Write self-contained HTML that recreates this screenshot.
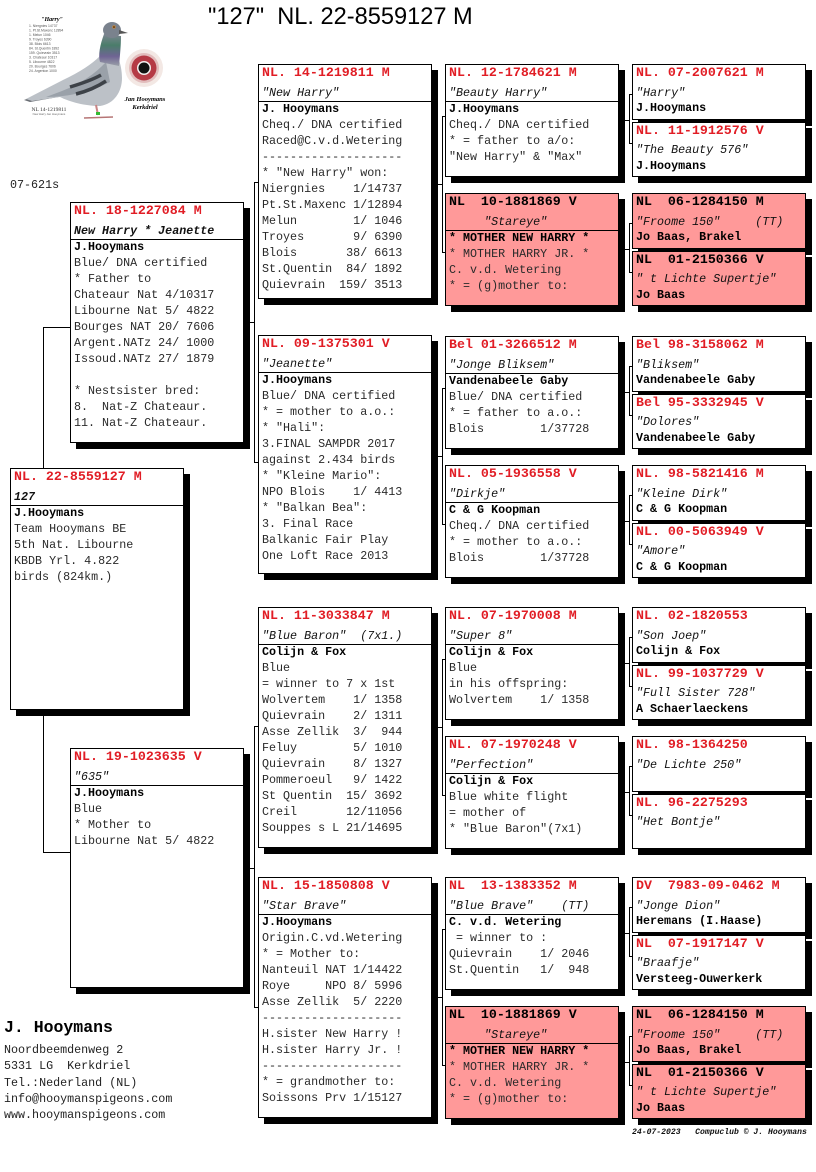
<!DOCTYPE html>
<html><head><meta charset="utf-8">
<style>
html,body{margin:0;padding:0}
body{width:816px;height:1172px;background:#fff;position:relative;overflow:hidden;font-family:"Liberation Mono","Courier New",monospace;}
.b{position:absolute;width:172px;border:1px solid #000;box-shadow:6px 6px 0 #000;background:#fff;}
.p{background:#ff9999;}
.h{position:absolute;left:3px;top:0;font-size:13.3px;font-weight:bold;color:#e11d25;line-height:16px;white-space:pre;}
.hk{color:#000}
.n{position:absolute;left:3px;top:20px;font-size:11.7px;font-style:italic;line-height:16px;white-space:pre;color:#111}
.n2{top:19px}
.s{position:absolute;left:0;right:0;top:36px;height:0;border-top:1px solid #000}
.t{position:absolute;left:3px;top:36px;font-size:11.7px;line-height:16px;white-space:pre;color:#2a2a2a}
.o{top:35px}
.t b{color:#000}
.l{position:absolute;background:#000}
.x{position:absolute;white-space:pre}
</style></head><body>

<div class="x" style="left:208px;top:6px;font-family:'Liberation Sans',Arial,sans-serif;font-size:23.6px;line-height:23.6px;color:#000">"127"  NL. 22-8559127 M</div>

<svg style="position:absolute;left:0;top:0" width="200" height="130" viewBox="0 0 200 130">
<defs><linearGradient id="nk" x1="0" y1="0" x2="0" y2="1">
<stop offset="0" stop-color="#7d8590"/><stop offset="0.35" stop-color="#4a7d6a"/><stop offset="0.7" stop-color="#6f6494"/><stop offset="1" stop-color="#9aa0a8"/></linearGradient></defs>
<text x="52" y="21" font-family="Liberation Serif" font-size="6" font-style="italic" font-weight="bold" text-anchor="middle">"Harry"</text>
<g font-family="Liberation Sans" font-size="3.4" fill="#555">
<text x="29" y="27">1. Niergnies    14737</text>
<text x="29" y="31.5">1. Pt.St.Maxenc 12894</text>
<text x="29" y="36">1. Melun         1046</text>
<text x="29" y="40.5">9. Troyes        6390</text>
<text x="29" y="45">38. Blois        6613</text>
<text x="29" y="49.5">84. St.Quentin   1892</text>
<text x="29" y="54">159. Quievrain   3513</text>
<text x="29" y="58.5">3. Chateaur     10317</text>
<text x="29" y="63">5. Libourne      4822</text>
<text x="29" y="67.5">20. Bourges      7606</text>
<text x="29" y="72">24. Argenton     1000</text>
</g>
<path d="M24,100 L58,88 L64,96 L30,102 Z" fill="#6a6e74"/>
<path d="M100,56 C92,64 80,72 63,80 L26,99 L32,101 L60,97 C70,102 85,106 100,106 C114,104 122,92 122,78 C122,68 119,60 119,60 Z" fill="#bcc1c7"/>
<path d="M106,62 C95,74 80,84 62,91 L46,97 C70,97 92,91 110,82 Z" fill="#9aa1a9"/>
<path d="M70,87 C80,84 92,80 101,75" stroke="#3d4248" stroke-width="3.5" fill="none"/>
<path d="M76,94 C88,91 97,87 106,81" stroke="#3d4248" stroke-width="3.5" fill="none"/>
<path d="M104,34 C100,45 98,55 100,62 L119,66 C120,55 121,45 121,36 Z" fill="url(#nk)"/>
<ellipse cx="112" cy="30" rx="9" ry="8" fill="#7a828d"/>
<circle cx="114" cy="27" r="1.6" fill="#d8872a"/><circle cx="114" cy="27" r="0.8" fill="#111"/>
<path d="M119,30 L128,33 L119,34 Z" fill="#555"/>
<path d="M96,105 L98,115" stroke="#c98585" stroke-width="2"/>
<path d="M84,118 L113,117" stroke="#b67575" stroke-width="1.5"/>
<rect x="96" y="112" width="4" height="3" fill="#33bb33"/>
<circle cx="144" cy="68" r="19" fill="#f3e8e4"/>
<circle cx="144" cy="68" r="15" fill="#e2bdbd"/>
<circle cx="144" cy="68" r="12.5" fill="#b53a45"/>
<circle cx="144" cy="68" r="7" fill="#f4efef"/>
<circle cx="144" cy="68" r="5.5" fill="#111"/>
<text x="145" y="101" font-family="Liberation Serif" font-size="6.5" font-style="italic" font-weight="bold" text-anchor="middle">Jan Hooymans</text>
<text x="145" y="109" font-family="Liberation Serif" font-size="6.5" font-style="italic" font-weight="bold" text-anchor="middle">Kerkdriel</text>
<text x="49" y="111" font-family="Liberation Serif" font-size="5.5" text-anchor="middle" fill="#333">NL 14-1219811</text>
<text x="49" y="115" font-family="Liberation Sans" font-size="2.8" text-anchor="middle" fill="#666">New Harry  Jan Hooymans</text>
</svg>

<div class="x" style="left:10px;top:177px;font-size:11.7px;line-height:16px;color:#222">07-621s</div>

<!-- connectors -->
<div class="l" style="left:43px;top:327px;width:1px;height:526px"></div>
<div class="l" style="left:43px;top:327px;width:27px;height:1px"></div>
<div class="l" style="left:43px;top:852px;width:27px;height:1px"></div>

<div class="l" style="left:243px;top:322px;width:11px;height:1px"></div>
<div class="l" style="left:254px;top:182px;width:1px;height:281px"></div>
<div class="l" style="left:254px;top:182px;width:4px;height:1px"></div>
<div class="l" style="left:254px;top:462px;width:4px;height:1px"></div>
<div class="l" style="left:243px;top:868px;width:11px;height:1px"></div>
<div class="l" style="left:254px;top:726px;width:1px;height:282px"></div>
<div class="l" style="left:254px;top:726px;width:4px;height:1px"></div>
<div class="l" style="left:254px;top:1007px;width:4px;height:1px"></div>

<div class="l" style="left:442px;top:116px;width:1px;height:137px"></div>
<div class="l" style="left:431px;top:184px;width:11px;height:1px"></div>
<div class="l" style="left:442px;top:116px;width:3px;height:1px"></div>
<div class="l" style="left:442px;top:252px;width:3px;height:1px"></div>
<div class="l" style="left:442px;top:388px;width:1px;height:137px"></div>
<div class="l" style="left:431px;top:456px;width:11px;height:1px"></div>
<div class="l" style="left:442px;top:388px;width:3px;height:1px"></div>
<div class="l" style="left:442px;top:524px;width:3px;height:1px"></div>
<div class="l" style="left:442px;top:659px;width:1px;height:137px"></div>
<div class="l" style="left:431px;top:727px;width:11px;height:1px"></div>
<div class="l" style="left:442px;top:659px;width:3px;height:1px"></div>
<div class="l" style="left:442px;top:795px;width:3px;height:1px"></div>
<div class="l" style="left:442px;top:929px;width:1px;height:137px"></div>
<div class="l" style="left:431px;top:997px;width:11px;height:1px"></div>
<div class="l" style="left:442px;top:929px;width:3px;height:1px"></div>
<div class="l" style="left:442px;top:1065px;width:3px;height:1px"></div>

<div class="l" style="left:629px;top:94px;width:1px;height:50px"></div><div class="l" style="left:619px;top:120px;width:10px;height:1px"></div><div class="l" style="left:629px;top:94px;width:3px;height:1px"></div><div class="l" style="left:629px;top:143px;width:3px;height:1px"></div>
<div class="l" style="left:629px;top:223px;width:1px;height:50px"></div><div class="l" style="left:619px;top:249px;width:10px;height:1px"></div><div class="l" style="left:629px;top:223px;width:3px;height:1px"></div><div class="l" style="left:629px;top:272px;width:3px;height:1px"></div>
<div class="l" style="left:629px;top:366px;width:1px;height:50px"></div><div class="l" style="left:619px;top:392px;width:10px;height:1px"></div><div class="l" style="left:629px;top:366px;width:3px;height:1px"></div><div class="l" style="left:629px;top:415px;width:3px;height:1px"></div>
<div class="l" style="left:629px;top:495px;width:1px;height:50px"></div><div class="l" style="left:619px;top:521px;width:10px;height:1px"></div><div class="l" style="left:629px;top:495px;width:3px;height:1px"></div><div class="l" style="left:629px;top:544px;width:3px;height:1px"></div>
<div class="l" style="left:629px;top:637px;width:1px;height:50px"></div><div class="l" style="left:619px;top:663px;width:10px;height:1px"></div><div class="l" style="left:629px;top:637px;width:3px;height:1px"></div><div class="l" style="left:629px;top:686px;width:3px;height:1px"></div>
<div class="l" style="left:629px;top:766px;width:1px;height:50px"></div><div class="l" style="left:619px;top:792px;width:10px;height:1px"></div><div class="l" style="left:629px;top:766px;width:3px;height:1px"></div><div class="l" style="left:629px;top:815px;width:3px;height:1px"></div>
<div class="l" style="left:629px;top:907px;width:1px;height:50px"></div><div class="l" style="left:619px;top:933px;width:10px;height:1px"></div><div class="l" style="left:629px;top:907px;width:3px;height:1px"></div><div class="l" style="left:629px;top:956px;width:3px;height:1px"></div>
<div class="l" style="left:629px;top:1036px;width:1px;height:50px"></div><div class="l" style="left:619px;top:1062px;width:10px;height:1px"></div><div class="l" style="left:629px;top:1036px;width:3px;height:1px"></div><div class="l" style="left:629px;top:1085px;width:3px;height:1px"></div>

<!-- subject -->
<div class="b" style="left:10px;top:468px;height:240px">
<div class="h">NL. 22-8559127 M</div>
<div class="n" style="font-weight:bold">127</div>
<div class="s"></div>
<div class="t"><b>J.Hooymans</b>
Team Hooymans BE
5th Nat. Libourne
KBDB Yrl. 4.822
birds (824km.)</div>
</div>

<!-- gen1 -->
<div class="b" style="left:70px;top:202px;height:239px">
<div class="h">NL. 18-1227084 M</div>
<div class="n" style="font-weight:bold">New Harry * Jeanette</div>
<div class="s"></div>
<div class="t"><b>J.Hooymans</b>
Blue/ DNA certified
* Father to
Chateaur Nat 4/10317
Libourne Nat 5/ 4822
Bourges NAT 20/ 7606
Argent.NATz 24/ 1000
Issoud.NATz 27/ 1879

* Nestsister bred:
8.  Nat-Z Chateaur.
11. Nat-Z Chateaur.</div>
</div>

<div class="b" style="left:70px;top:748px;height:238px">
<div class="h">NL. 19-1023635 V</div>
<div class="n">"635"</div>
<div class="s"></div>
<div class="t"><b>J.Hooymans</b>
Blue
* Mother to
Libourne Nat 5/ 4822</div>
</div>

<!-- gen2 -->
<div class="b" style="left:258px;top:64px;height:233px">
<div class="h">NL. 14-1219811 M</div>
<div class="n">"New Harry"</div>
<div class="s"></div>
<div class="t"><b>J. Hooymans</b>
Cheq./ DNA certified
Raced@C.v.d.Wetering
--------------------
* "New Harry" won:
Niergnies    1/14737
Pt.St.Maxenc 1/12894
Melun        1/ 1046
Troyes       9/ 6390
Blois       38/ 6613
St.Quentin  84/ 1892
Quievrain  159/ 3513</div>
</div>

<div class="b" style="left:258px;top:335px;height:237px">
<div class="h">NL. 09-1375301 V</div>
<div class="n">"Jeanette"</div>
<div class="s"></div>
<div class="t"><b>J.Hooymans</b>
Blue/ DNA certified
* = mother to a.o.:
* "Hali":
3.FINAL SAMPDR 2017
against 2.434 birds
* "Kleine Mario":
NPO Blois    1/ 4413
* "Balkan Bea":
3. Final Race
Balkanic Fair Play
One Loft Race 2013</div>
</div>

<div class="b" style="left:258px;top:607px;height:239px">
<div class="h">NL. 11-3033847 M</div>
<div class="n">"Blue Baron"  (7x1.)</div>
<div class="s"></div>
<div class="t"><b>Colijn &amp; Fox</b>
Blue
= winner to 7 x 1st
Wolvertem    1/ 1358
Quievrain    2/ 1311
Asse Zellik  3/  944
Feluy        5/ 1010
Quievrain    8/ 1327
Pommeroeul   9/ 1422
St Quentin  15/ 3692
Creil       12/11056
Souppes s L 21/14695</div>
</div>

<div class="b" style="left:258px;top:877px;height:239px">
<div class="h">NL. 15-1850808 V</div>
<div class="n">"Star Brave"</div>
<div class="s"></div>
<div class="t"><b>J.Hooymans</b>
Origin.C.vd.Wetering
* = Mother to:
Nanteuil NAT 1/14422
Roye     NPO 8/ 5996
Asse Zellik  5/ 2220
--------------------
H.sister New Harry !
H.sister Harry Jr. !
--------------------
* = grandmother to:
Soissons Prv 1/15127</div>
</div>

<!-- gen3 -->
<div class="b" style="left:445px;top:64px;height:111px">
<div class="h">NL. 12-1784621 M</div>
<div class="n">"Beauty Harry"</div>
<div class="s"></div>
<div class="t"><b>J.Hooymans</b>
Cheq./ DNA certified
* = father to a/o:
"New Harry" &amp; "Max"</div>
</div>

<div class="b p" style="left:445px;top:193px;height:111px">
<div class="h hk">NL  10-1881869 V</div>
<div class="n">     "Stareye"</div>
<div class="s"></div>
<div class="t"><b>* MOTHER NEW HARRY *</b>
* MOTHER HARRY JR. *
C. v.d. Wetering
* = (g)mother to:</div>
</div>

<div class="b" style="left:445px;top:336px;height:111px">
<div class="h">Bel 01-3266512 M</div>
<div class="n">"Jonge Bliksem"</div>
<div class="s"></div>
<div class="t"><b>Vandenabeele Gaby</b>
Blue/ DNA certified
* = father to a.o.:
Blois        1/37728</div>
</div>

<div class="b" style="left:445px;top:465px;height:111px">
<div class="h">NL. 05-1936558 V</div>
<div class="n">"Dirkje"</div>
<div class="s"></div>
<div class="t"><b>C &amp; G Koopman</b>
Cheq./ DNA certified
* = mother to a.o.:
Blois        1/37728</div>
</div>

<div class="b" style="left:445px;top:607px;height:111px">
<div class="h">NL. 07-1970008 M</div>
<div class="n">"Super 8"</div>
<div class="s"></div>
<div class="t"><b>Colijn &amp; Fox</b>
Blue
in his offspring:
Wolvertem    1/ 1358</div>
</div>

<div class="b" style="left:445px;top:736px;height:111px">
<div class="h">NL. 07-1970248 V</div>
<div class="n">"Perfection"</div>
<div class="s"></div>
<div class="t"><b>Colijn &amp; Fox</b>
Blue white flight
= mother of
* "Blue Baron"(7x1)</div>
</div>

<div class="b" style="left:445px;top:877px;height:111px">
<div class="h">NL  13-1383352 M</div>
<div class="n">"Blue Brave"    (TT)</div>
<div class="s"></div>
<div class="t"><b>C. v.d. Wetering</b>
 = winner to :
Quievrain    1/ 2046
St.Quentin   1/  948</div>
</div>

<div class="b p" style="left:445px;top:1006px;height:111px">
<div class="h hk">NL  10-1881869 V</div>
<div class="n">     "Stareye"</div>
<div class="s"></div>
<div class="t"><b>* MOTHER NEW HARRY *</b>
* MOTHER HARRY JR. *
C. v.d. Wetering
* = (g)mother to:</div>
</div>

<!-- gen4 -->
<div class="b" style="left:632px;top:64px;height:54px"><div class="h">NL. 07-2007621 M</div><div class="n">"Harry"</div><div class="t o"><b>J.Hooymans</b></div></div>
<div class="b" style="left:632px;top:122px;height:53px"><div class="h">NL. 11-1912576 V</div><div class="n n2">"The Beauty 576"</div><div class="t o"><b>J.Hooymans</b></div></div>
<div class="b p" style="left:632px;top:193px;height:54px"><div class="h hk">NL  06-1284150 M</div><div class="n">"Froome 150"     (TT)</div><div class="t o"><b>Jo Baas, Brakel</b></div></div>
<div class="b p" style="left:632px;top:251px;height:53px"><div class="h hk">NL  01-2150366 V</div><div class="n n2">" t Lichte Supertje"</div><div class="t o"><b>Jo Baas</b></div></div>

<div class="b" style="left:632px;top:336px;height:54px"><div class="h">Bel 98-3158062 M</div><div class="n">"Bliksem"</div><div class="t o"><b>Vandenabeele Gaby</b></div></div>
<div class="b" style="left:632px;top:394px;height:53px"><div class="h">Bel 95-3332945 V</div><div class="n n2">"Dolores"</div><div class="t o"><b>Vandenabeele Gaby</b></div></div>
<div class="b" style="left:632px;top:465px;height:54px"><div class="h">NL. 98-5821416 M</div><div class="n">"Kleine Dirk"</div><div class="t o"><b>C &amp; G Koopman</b></div></div>
<div class="b" style="left:632px;top:523px;height:53px"><div class="h">NL. 00-5063949 V</div><div class="n n2">"Amore"</div><div class="t o"><b>C &amp; G Koopman</b></div></div>

<div class="b" style="left:632px;top:607px;height:54px"><div class="h">NL. 02-1820553</div><div class="n">"Son Joep"</div><div class="t o"><b>Colijn &amp; Fox</b></div></div>
<div class="b" style="left:632px;top:665px;height:53px"><div class="h">NL. 99-1037729 V</div><div class="n n2">"Full Sister 728"</div><div class="t o"><b>A Schaerlaeckens</b></div></div>
<div class="b" style="left:632px;top:736px;height:54px"><div class="h">NL. 98-1364250</div><div class="n">"De Lichte 250"</div></div>
<div class="b" style="left:632px;top:794px;height:53px"><div class="h">NL. 96-2275293</div><div class="n n2">"Het Bontje"</div></div>

<div class="b" style="left:632px;top:877px;height:54px"><div class="h">DV  7983-09-0462 M</div><div class="n">"Jonge Dion"</div><div class="t o"><b>Heremans (I.Haase)</b></div></div>
<div class="b" style="left:632px;top:935px;height:53px"><div class="h">NL  07-1917147 V</div><div class="n n2">"Braafje"</div><div class="t o"><b>Versteeg-Ouwerkerk</b></div></div>
<div class="b p" style="left:632px;top:1006px;height:54px"><div class="h hk">NL  06-1284150 M</div><div class="n">"Froome 150"     (TT)</div><div class="t o"><b>Jo Baas, Brakel</b></div></div>
<div class="b p" style="left:632px;top:1064px;height:53px"><div class="h hk">NL  01-2150366 V</div><div class="n n2">" t Lichte Supertje"</div><div class="t o"><b>Jo Baas</b></div></div>

<!-- address -->
<div class="x" style="left:4px;top:1018px;font-size:16.5px;line-height:20px;font-weight:bold;color:#000">J. Hooymans</div>
<div class="x" style="left:4px;top:1042px;font-size:11.7px;line-height:16.3px;color:#222">Noordbeemdenweg 2
5331 LG  Kerkdriel
Tel.:Nederland (NL)
info@hooymanspigeons.com
www.hooymanspigeons.com</div>

<div class="x" style="left:632px;top:1128px;font-size:8.1px;line-height:10px;font-style:italic;font-weight:bold;color:#111">24-07-2023   Compuclub © J. Hooymans</div>

</body></html>
